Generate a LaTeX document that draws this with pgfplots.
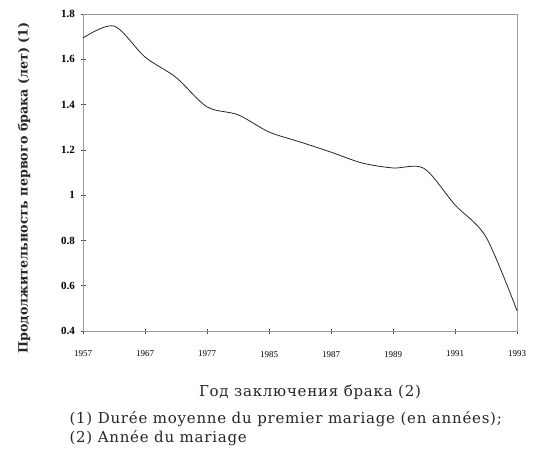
\documentclass[border=0pt]{standalone}
\usepackage{fontspec}
\setmainfont{Liberation Serif}
\newfontfamily\labfont{DejaVu Serif}
\newfontfamily\footfont[LetterSpace=5]{DejaVu Serif}
\usepackage{pgfplots}
\pgfplotsset{compat=1.18}
\begin{document}
\begin{tikzpicture}
\path[use as bounding box] (0pt,0pt) rectangle (535pt,455pt);
\begin{axis}[
  at={(83pt,124pt)}, anchor=south west,
  scale only axis, width=434pt, height=317pt,
  xmin=0, xmax=14, ymin=0.4, ymax=1.8,
  xtick={0,2,4,6,8,10,12,14},
  xticklabels={1957,1967,1977,1985,1987,1989,1991,1993},
  ytick={0.4,0.6,0.8,1,1.2,1.4,1.6,1.8},
  yticklabels={0.4,0.6,0.8,1,1.2,1.4,1.6,1.8},
  axis line style={gray!80, line width=0.7pt},
  tick style={black!70, line width=0.5pt},
  tick align=center,
  major tick length=5pt,
  xtick pos=bottom, ytick pos=left,
  xticklabel style={font=\fontsize{9}{10}\selectfont, yshift=-14pt},
  yticklabel style={font=\fontsize{11}{12}\selectfont\bfseries, xshift=-2pt},
  /pgf/number format/assume math mode=true,
  clip=false,
]
\addplot[black!85, line width=0.8pt, smooth, tension=0.5] coordinates {
(0,1.694) (1,1.747) (2,1.61) (3,1.52) (4,1.39) (5,1.355) (6,1.279)
(7,1.235) (8,1.19) (9,1.142) (10,1.12) (11,1.118) (12,0.957) (13,0.815) (14,0.49)
};
\end{axis}
\node[rotate=90, font=\labfont\fontsize{12.7}{15}\selectfont\bfseries, text=black!85] at (24pt,267pt) {Продолжительность первого брака (лет) (1)};
\node[font=\footfont\fontsize{15}{17}\selectfont, text=black!85] at (310pt,63pt) {Год заключения брака (2)};
\node[font=\footfont\fontsize{15}{19}\selectfont, text=black!85, align=left, anchor=north west] at (66pt,47pt) {(1) Durée moyenne du premier mariage (en années);\\(2) Année du mariage};
\end{tikzpicture}
\end{document}
